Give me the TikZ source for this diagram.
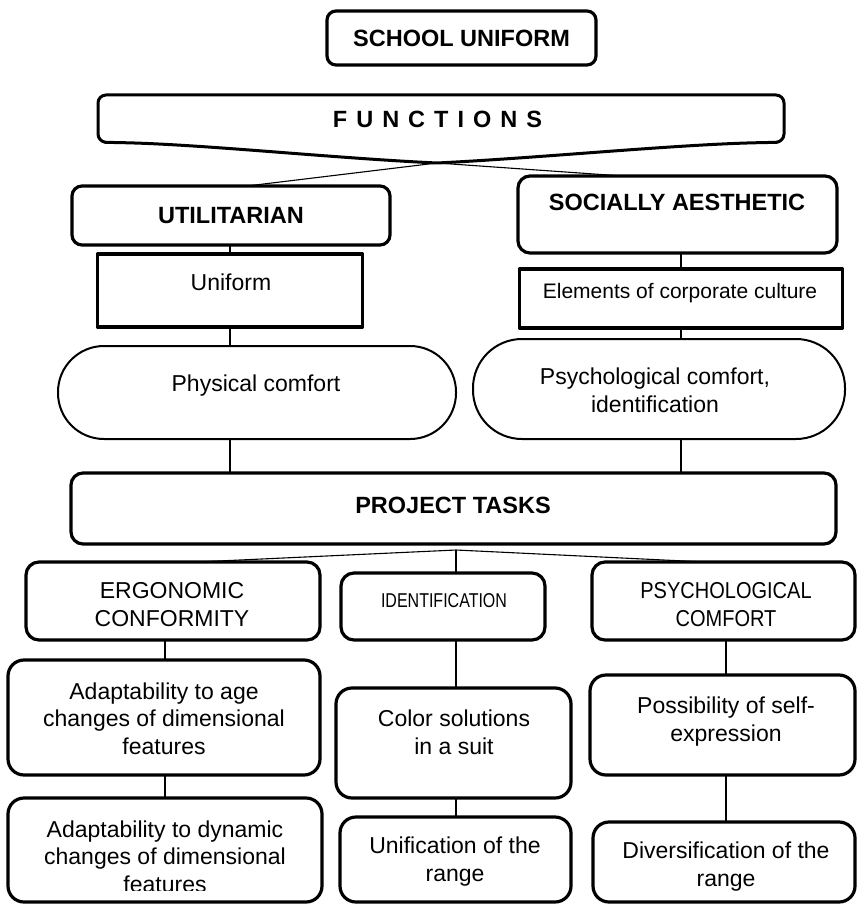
\documentclass[tikz,border=0pt]{standalone}
\usepackage{fontspec}
\setmainfont{Liberation Sans}
\usepackage{graphicx}
\usetikzlibrary{calc}

\tikzset{
  sz/.style 2 args={minimum width=#1pt, minimum height=#2pt},
  rbox/.style={draw, line width=3.2pt, rounded corners=#1, inner sep=0pt, outer sep=0pt},
  rbox/.default=12pt,
  sqbox/.style={draw, line width=3.4pt, inner sep=0pt, outer sep=0pt},
  pill/.style={draw, line width=2pt, rounded corners=#1, inner sep=0pt, outer sep=0pt},
  conn/.style={line width=1.1pt},
  % multi-line labels are placed by the baseline of their last line
  txt/.style={anchor=base, inner sep=0pt, align=center, font=\fontsize{23}{27.5}\selectfont},
  btxt/.style={anchor=base, inner sep=0pt, align=center, font=\fontsize{23.5}{27.5}\selectfont\bfseries},
}

\begin{document}
\begin{tikzpicture}[x=1pt, y=-1pt, line join=round]
\useasboundingbox (0,0) rectangle (857,904);

% column guides for the vertical connectors
\coordinate (colA) at (230,0);
\coordinate (colB) at (681,0);
\coordinate (colL) at (165,0);
\coordinate (colM) at (456,0);
\coordinate (colR) at (726,0);

% title
\node[rbox=9pt, sz={269}{54}] (school) at (461.5,38) {};
\node[btxt] (schooltxt) at (461.5,47) {SCHOOL UNIFORM};

% functions banner with curved lower edge
\coordinate (tip) at (437,163);
\draw[line width=3pt, rounded corners=8pt]
  (tip) .. controls (330,158) and (200,144) .. (112,142.5) -- (98,142) -- (98,95)
  -- (784,95) -- (784,142) -- (770,142.5) .. controls (680,144) and (540,158) .. (tip);
\node[btxt] (functions) at (437.5,128)
  {F\hspace{9pt}U\hspace{9pt}N\hspace{9pt}C\hspace{9pt}T\hspace{9pt}I\hspace{9pt}O\hspace{9pt}N\hspace{9pt}S};

% two kinds of functions
\node[rbox=10pt, sz={318}{59}] (util) at (231,215.5) {};
\node[btxt] at (231,223) {UTILITARIAN};
\node[rbox=12pt, sz={319}{77}] (social) at (677.5,214.5) {};
\node[btxt] at (677,211) {SOCIALLY AESTHETIC};

\node[sqbox, sz={265}{73}] (uniform) at (230,290.5) {};
\node[txt] at (231,290) {Uniform};
\node[sqbox, sz={323}{59}] (elements) at (681,298.5) {};
\node[txt, font=\fontsize{21}{25}\selectfont] at (680,298) {Elements of corporate culture};

\node[pill=46pt, sz={398}{93}] (physical) at (257,392.5) {};
\node[txt] at (256,391) {Physical comfort};
\node[pill=49pt, sz={372}{100}] (psych) at (659,389) {};
\node[txt] at (655,412) {Psychological comfort,\\identification};

% project tasks
\node[rbox=12pt, sz={765}{71}] (pt) at (453.5,508.5) {};
\node[btxt] at (453,513) {PROJECT TASKS};
\coordinate (fan) at (456,550);

\node[rbox=13pt, sz={294}{78}] (ergo) at (173,601) {};
\node[txt] at (172,626) {ERGONOMIC\\CONFORMITY};
\node[rbox=13pt, sz={204}{67}] (ident) at (443,606.5) {};
\node[txt, font=\fontsize{20}{24}\selectfont] at (444,607) {\scalebox{0.8}[1]{IDENTIFICATION}};
\node[rbox=13pt, sz={263}{78}] (psychc) at (723.5,601) {};
\node[txt] at (726,626) {\scalebox{0.87}[1]{PSYCHOLOGICAL}\\\scalebox{0.87}[1]{COMFORT}};

% lower rows
\node[rbox=16pt, sz={312}{115}] (adapt1) at (164,717.5) {};
\node[txt] at (164,754) {Adaptability to age\\changes of dimensional\\features};
\node[rbox=16pt, sz={314}{104}] (adapt2) at (165,850) {};
\begin{scope}
  % the last line runs past the lower edge of its text area
  \clip (0,0) rectangle (857,890);
  \node[txt] at (165,892) {Adaptability to dynamic\\changes of dimensional\\features};
\end{scope}

\node[rbox=16pt, sz={235}{110}] (color) at (453.5,743) {};
\node[txt] at (454,754) {Color solutions\\in a suit};
\node[rbox=16pt, sz={231}{85}] (unif) at (455.5,859.5) {};
\node[txt] at (455,881) {Unification of the\\range};

\node[rbox=16pt, sz={265}{100}] (poss) at (722.5,725) {};
\node[txt] at (726,741) {Possibility of self-\\expression};
\node[rbox=16pt, sz={262}{80}] (div) at (724,862) {};
\node[txt] at (726,886) {Diversification of the\\range};

% connectors
\draw[conn] (tip) -- ([xshift=16pt]util.north);
\draw[conn] (tip) -- ([xshift=-55pt]social.north);

\draw[conn] (colA |- util.south) -- (colA |- uniform.north);
\draw[conn] (colA |- uniform.south) -- (colA |- physical.north);
\draw[conn] (colA |- physical.south) -- (colA |- pt.north);

\draw[conn] (colB |- social.south) -- (colB |- elements.north);
\draw[conn] (colB |- elements.south) -- (colB |- psych.north);
\draw[conn] (colB |- psych.south) -- (colB |- pt.north);

\draw[conn] (fan) -- ([xshift=24pt]ergo.north);
\draw[conn] (fan) -- (colM |- ident.north);
\draw[conn] (fan) -- ([xshift=-18.5pt]psychc.north);

\draw[conn] (colL |- ergo.south) -- (colL |- adapt1.north);
\draw[conn] (colL |- adapt1.south) -- (colL |- adapt2.north);
\draw[conn] (colM |- ident.south) -- (colM |- color.north);
\draw[conn] (colM |- color.south) -- (colM |- unif.north);
\draw[conn] (colR |- psychc.south) -- (colR |- poss.north);
\draw[conn] (colR |- poss.south) -- (colR |- div.north);
\end{tikzpicture}
\end{document}
